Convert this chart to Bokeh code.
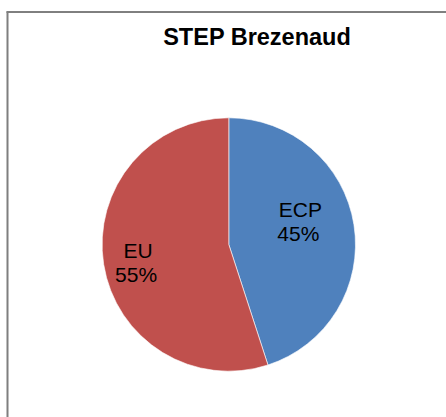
import numpy as np
from bokeh.plotting import figure
from bokeh.models import Range1d, ColumnDataSource
from bokeh.core.properties import value
from bokeh.embed import file_html
from bokeh.resources import INLINE

title = "STEP Brezenaud"
categories = ["ECP", "EU"]
shares = [45, 55]
colors = ["#4F81BD", "#C0504D"]

W, H = 446, 417
p = figure(width=W, height=H, output_backend="svg", toolbar_location=None,
           x_range=Range1d(0, W), y_range=Range1d(0, H), min_border=0)
p.axis.visible = False
p.grid.visible = False
p.outline_line_color = None
p.background_fill_color = "white"

# frame
p.segment(x0=[6], y0=[405.5], x1=[W], y1=[405.5], line_color="black", line_width=1)
p.segment(x0=[7], y0=[0], x1=[7], y1=[406], line_color="#7f7f7f", line_width=2)

cx, cy, r = 228.3, 173.0, 126.7
vals = np.array(shares, dtype=float)
fr = vals / vals.sum()
cum = np.concatenate([[0], np.cumsum(fr)])
# clockwise from 12 o'clock
ends = np.pi / 2 - cum[:-1] * 2 * np.pi
starts = np.pi / 2 - cum[1:] * 2 * np.pi
src = ColumnDataSource(dict(start=starts, end=ends, color=colors))
p.wedge(x=cx, y=cy, radius=r, start_angle="start", end_angle="end",
        fill_color="color", line_color="white", line_width=0.6, source=src)

mids = (starts + ends) / 2
lf = 0.62
lx = cx + r * lf * np.cos(mids) + np.array([-6.0, -13.1])
ly = cy + r * lf * np.sin(mids) + np.array([10.7, -5.4])
half = 12.15
cat_src = ColumnDataSource(dict(x=lx, y=ly + half, t=categories))
pct_src = ColumnDataSource(dict(x=lx - 2, y=ly - half, t=[f"{s}%" for s in shares]))
for s in (cat_src, pct_src):
    p.text(x="x", y="y", text="t", source=s,
           text_align="center", text_baseline="alphabetic",
           text_font=value("Liberation Sans"),
           text_font_size="21px", text_color="black")

p.text(x=[256.7], y=[380.3], text=[title], text_align="center",
       text_baseline="alphabetic",
       text_font=value("Liberation Sans"), text_font_style="bold",
       text_font_size="23.5px", text_color="black")

open("out.html", "w").write(file_html(p, INLINE))
